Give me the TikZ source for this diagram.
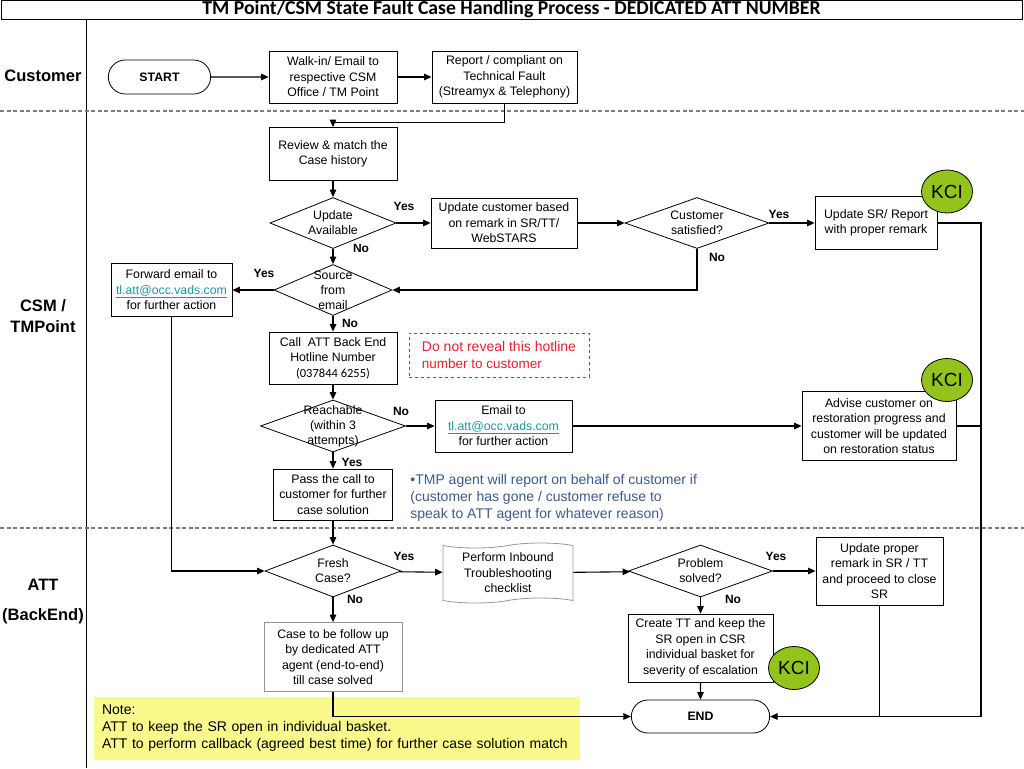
\documentclass[tikz,border=0pt]{standalone}
\usepackage{fontspec}
\setmainfont{Liberation Sans}
\newfontfamily\calibri{Carlito}
\usepackage{tikz}
\usetikzlibrary{shapes.geometric, shapes.misc, shapes.symbols, arrows.meta}

\definecolor{kcigreen}{RGB}{146,196,28}
\definecolor{linkteal}{RGB}{30,150,160}
\definecolor{warnred}{RGB}{232,30,50}
\definecolor{tmpblue}{RGB}{60,90,140}
\definecolor{noteyellow}{RGB}{250,250,140}
\definecolor{lanegray}{RGB}{125,125,125}
\definecolor{boxgray}{RGB}{150,150,150}

\newcommand{\attmail}{\textcolor{linkteal}{\underline{tl.att@occ.vads.com}}}

\begin{document}
\begin{tikzpicture}[x=1pt, y=-1pt,
        every node/.append style={line width=0.8pt},
        box/.style 2 args={rectangle, draw, align=center, minimum width=#1, minimum height=#2, inner sep=1pt, font=\fontsize{12.3}{15.5}\selectfont},
        dia/.style 2 args={diamond, draw, minimum width=#1, minimum height=#2, inner sep=0pt},
        dtext/.style={align=center, inner sep=0pt, font=\fontsize{12.3}{15}\selectfont},
        term/.style 2 args={rounded rectangle, draw, minimum width=#1, minimum height=#2, font=\bfseries\fontsize{12.3}{14}\selectfont},
        kci/.style={ellipse, draw, fill=kcigreen, minimum width=51pt, minimum height=43pt, inner sep=0pt, font=\fontsize{19}{21}\selectfont},
        yn/.style={inner sep=0pt, font=\bfseries\fontsize{12}{14}\selectfont},
        lane/.style={align=center, font=\bfseries\fontsize{16.5}{21}\selectfont},
        arr/.style={-{Triangle[length=7.5pt,width=6.5pt]}, line width=1.1pt},
        link/.style={line width=1.1pt}]
        \useasboundingbox (0,0) rectangle (1024,768);

        % Lanes
        \node[draw, minimum width=1021pt, minimum height=19pt, inner sep=0pt, font=\calibri\bfseries\fontsize{19.7}{20}\selectfont] (title) at (511.5,9.5) {TM Point/CSM State Fault Case Handling Process - DEDICATED ATT NUMBER};
        \draw[line width=0.8pt] (86,19) -- (86,768);
        \draw[lanegray, dash pattern=on 4pt off 2.5pt, line width=1.3pt] (0,111) -- (1024,111);
        \draw[lanegray, dash pattern=on 4pt off 2.5pt, line width=1.3pt] (0,528) -- (1024,528);
        \node[lane] (lcust) at (43,76) {Customer};
        \node[lane] (lcsm) at (43,316) {CSM /\\TMPoint};
        \node[lane] (latt) at (43,585) {ATT};
        \node[lane] (lback) at (43,616) {(BackEnd)};

        % Note
        \node[fill=noteyellow, text width=470pt, inner xsep=8pt, minimum height=63pt, align=left, font=\fontsize{14}{17}\selectfont] (note) at (337,728.5) {Note:\\ATT to keep the SR open in individual basket.\\ATT to perform callback (agreed best time) for further case solution match};

        % Nodes
        \node[term={109pt}{34pt}] (start) at (159.5,77) {START};
        \node[box={128pt}{52pt}] (walk) at (333,77) {Walk-in/ Email to\\respective CSM\\Office / TM Point};
        \node[box={145pt}{52pt}] (report) at (504.5,77) {Report / compliant on\\Technical Fault\\(Streamyx \& Telephony)};
        \node[box={128pt}{53pt}] (review) at (333,154) {Review \& match the\\Case history};
        \node[dia={126pt}{51pt}, label={[dtext]center:Update\\Available}] (upd) at (333,223) {};
        \node[box={146pt}{50pt}] (updcust) at (504,223) {Update customer based\\on remark in SR/TT/\\WebSTARS};
        \node[dia={144pt}{51pt}, label={[dtext]center:Customer\\satisfied?}] (sat) at (697,223) {};
        \node[box={122pt}{53pt}] (updsr) at (876,223) {Update SR/ Report\\with proper remark};
        \node[dia={118pt}{51pt}, label={[dtext]center:Source\\from\\email}] (src) at (333,290) {};
        \node[box={121pt}{53pt}] (fwd) at (171.5,290) {Forward email to\\\attmail\\for further action};
        \node[box={128pt}{52pt}] (call) at (333,358) {Call\ \ ATT Back End\\Hotline Number\\{\calibri\fontsize{12.5}{15.5}\selectfont(037844 6255)}};
        \node[draw=warnred, dashed, minimum width=180pt, minimum height=44pt, align=left, text=warnred, font=\fontsize{14}{17}\selectfont] (warn) at (499,355) {Do not reveal this hotline\\{\fontsize{13.5}{17}\selectfont number to customer}};
        \node[dia={145pt}{52pt}, label={[dtext]center:Reachable\\(within 3\\attempts)}] (reach) at (333,426) {};
        \node[box={137pt}{52pt}] (email) at (503.5,426) {Email to\\\attmail\\for further action};
        \node[box={154pt}{69pt}] (advise) at (879,426) {Advise customer on\\restoration progress and\\customer will be updated\\on restoration status};
        \node[box={119pt}{51pt}] (pass) at (333,494.5) {Pass the call to\\customer for further\\case solution};
        \node[anchor=west, align=left, text=tmpblue, inner sep=0pt, font=\fontsize{14}{17}\selectfont] (tmpnote) at (410,498) {\textbullet TMP agent will report on behalf of customer if\\(customer has gone / customer refuse to\\speak to ATT agent for whatever reason)};
        \node[dia={136pt}{52pt}, label={[dtext]center:Fresh\\Case?}] (fresh) at (333,571) {};
        \node[tape, draw=boxgray, minimum width=130pt, minimum height=60pt, align=center, font=\fontsize{12.3}{15.5}\selectfont] (inbound) at (508,573) {Perform Inbound\\Troubleshooting\\checklist};
        \node[dia={144pt}{52pt}, label={[dtext]center:Problem\\solved?}] (prob) at (700.5,571) {};
        \node[box={127pt}{68pt}] (updprop) at (879.5,571) {Update proper\\remark in SR / TT\\and proceed to close\\SR};
        \node[box={145pt}{68pt}] (create) at (700.5,648) {Create TT and keep the\\SR open in CSR\\individual basket for\\severity of escalation};
        \node[box={138pt}{69pt}, draw=boxgray] (follow) at (333,657) {Case to be follow up\\by dedicated ATT\\agent (end-to-end)\\till case solved};
        \node[term={145pt}{33pt}] (end) at (700.5,716.5) {END};
        \coordinate (rail) at (981,716.5);

        % Lines
        \draw[arr] (start) -- (walk);
        \draw[arr] (walk) -- (report);
        \draw[arr] (report.south) -- ++(0,19) -| (review.north);
        \draw[arr] (review) -- (upd);
        \draw[arr] (upd) -- (updcust);
        \draw[arr] (updcust) -- (sat);
        \draw[arr] (sat) -- (updsr);
        \draw[arr] (sat.south) |- (src.east);
        \draw[arr] (upd) -- (src);
        \draw[arr] (src) -- (fwd);
        \draw[arr] (fwd.south) |- (fresh.west);
        \draw[arr] (src) -- (call);
        \draw[arr] (call) -- (reach);
        \draw[arr] (reach) -- (email);
        \draw[arr] (email) -- (advise);
        \draw[arr] (reach) -- (pass);
        \draw[arr] (pass) -- (fresh);
        \draw[arr] (fresh) -- (inbound);
        \draw[arr] (inbound) -- (prob);
        \draw[arr] (prob) -- (updprop);
        \draw[arr] (prob) -- (create);
        \draw[arr] (create) -- (end);
        \draw[arr] (fresh) -- (follow);
        \draw[arr] (follow.south) |- (end.west);
        \draw[arr] (updsr.east) -| (rail) -- (end.east);
        \draw[link] (advise.east) -- (advise.east -| rail);
        \draw[link] (updprop.south) -- (updprop.south |- end.east);

        % Yes / No
        \node[yn] (y1) at (404,206) {Yes};
        \node[yn] (n1) at (361,248) {No};
        \node[yn] (y2) at (779,214) {Yes};
        \node[yn] (n2) at (717,257) {No};
        \node[yn] (y3) at (264,273) {Yes};
        \node[yn] (n3) at (350,323) {No};
        \node[yn] (n4) at (401,411) {No};
        \node[yn] (y4) at (352,462) {Yes};
        \node[yn] (y5) at (404,556) {Yes};
        \node[yn] (n5) at (355,599) {No};
        \node[yn] (y6) at (776,556) {Yes};
        \node[yn] (n6) at (733,599) {No};

        % KCI
        \node[kci] (kci1) at (947,191.5) {KCI};
        \node[kci] (kci2) at (947,380) {KCI};
        \node[kci] (kci3) at (794,668) {KCI};
    \end{tikzpicture}
\end{document}
